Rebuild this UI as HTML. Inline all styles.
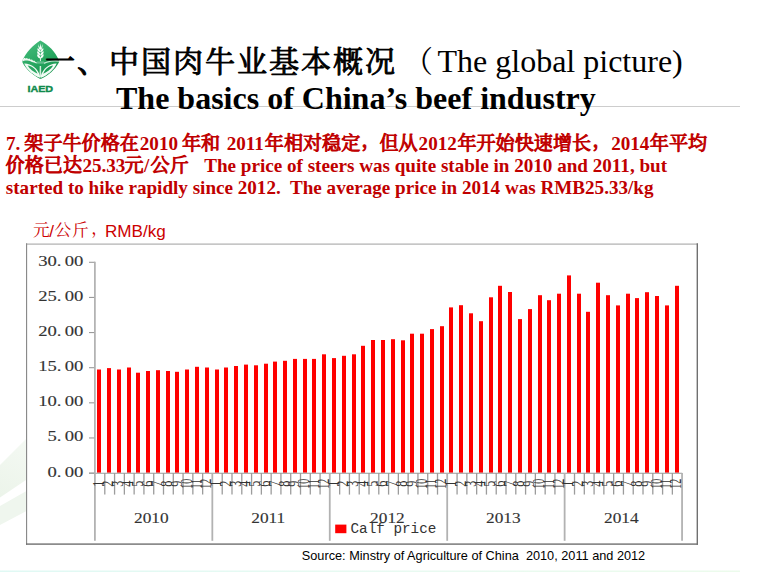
<!DOCTYPE html>
<html><head><meta charset="utf-8"><title>slide</title>
<style>
html,body{margin:0;padding:0;background:#fff;}
body{width:769px;height:572px;position:relative;overflow:hidden;font-family:"Liberation Sans",sans-serif;}
svg{position:absolute;left:0;top:0;}
text{white-space:pre;}
.t1{font:32px "Liberation Serif",serif;fill:#000;}
.t2{font:bold 32px "Liberation Serif",serif;fill:#000;}
.rd{font:bold 19.12px "Liberation Serif",serif;fill:#c00000;}
.un{font:17.1px "Liberation Sans",sans-serif;fill:#cc0000;}
.src{font:12.72px "Liberation Sans",sans-serif;fill:#000;}
.lg{font:14.3px "Liberation Mono",monospace;fill:#333;}
.ax{font:13.9px "Liberation Serif",serif;fill:#333;stroke:#333;stroke-width:.12px;}
.mo{font:16.5px "Liberation Serif",serif;fill:#333;}
.ct{font:30.08px "Liberation Serif","Noto Serif CJK SC",serif;fill:#000;stroke:#000;stroke-width:.9px;stroke-linejoin:round;}
.cb{font:19.1px "Liberation Serif","Noto Serif CJK SC",serif;fill:#c00000;stroke:#c00000;stroke-width:1.03px;stroke-linejoin:round;}
.cu{font:16.7px "Liberation Serif","Noto Serif CJK SC",serif;fill:#cc0000;}
</style></head><body>
<svg width="769" height="572" viewBox="0 0 769 572">
<defs>
<linearGradient id="bt" x1="0" x2="1" y1="0" y2="0"><stop offset="0" stop-color="#e0f9f4"/><stop offset=".5" stop-color="#e8faf2"/><stop offset="1" stop-color="#ecfbec"/></linearGradient>
<linearGradient id="dg" gradientUnits="userSpaceOnUse" x1="0" y1="495" x2="26" y2="440"><stop offset="0" stop-color="#ecf4ea"/><stop offset="1" stop-color="#f4f9f3"/></linearGradient>
</defs>
<!-- faint decoration -->
<polygon points="0,465 26,439 26,480 0,497.6" fill="url(#dg)"/>
<polygon points="0,506 26,491.3 26,511.3 0,525" fill="#eff6ee"/>
<rect x="0" y="570.5" width="740" height="1.5" fill="url(#bt)"/>
<line x1="0" x2="740" y1="106.5" y2="106.5" stroke="#cdcdcd" stroke-width="1"/>
<!-- chart frame -->
<rect x="26" y="243.3" width="672" height="301.5" fill="#fff"/>
<rect x="26" y="243.3" width="672" height="1.7" fill="#c6c6c6"/>
<rect x="26" y="243.3" width="1.15" height="301.5" fill="#8a8a8a"/>
<rect x="26" y="543.4" width="672" height="1.4" fill="#707070"/>
<rect x="696.6" y="243.3" width="1.4" height="301.5" fill="#707070"/>
<g fill="#ff0000">
<rect x="97" y="369.5" width="4" height="103.2"/>
<rect x="107" y="368.1" width="4" height="104.6"/>
<rect x="117" y="369.5" width="4" height="103.2"/>
<rect x="127" y="367.5" width="4" height="105.2"/>
<rect x="136" y="372.7" width="4" height="100.0"/>
<rect x="146" y="371.0" width="4" height="101.7"/>
<rect x="156" y="370.2" width="4" height="102.5"/>
<rect x="166" y="371.0" width="4" height="101.7"/>
<rect x="175" y="371.8" width="4" height="100.9"/>
<rect x="185" y="369.5" width="4" height="103.2"/>
<rect x="195" y="366.8" width="4" height="105.9"/>
<rect x="205" y="367.5" width="4" height="105.2"/>
<rect x="215" y="369.5" width="4" height="103.2"/>
<rect x="224" y="367.5" width="4" height="105.2"/>
<rect x="234" y="366.0" width="4" height="106.7"/>
<rect x="244" y="364.6" width="4" height="108.1"/>
<rect x="254" y="365.3" width="4" height="107.4"/>
<rect x="264" y="363.7" width="4" height="109.0"/>
<rect x="273" y="361.6" width="4" height="111.1"/>
<rect x="283" y="360.8" width="4" height="111.9"/>
<rect x="293" y="358.9" width="4" height="113.8"/>
<rect x="303" y="358.9" width="4" height="113.8"/>
<rect x="312" y="358.9" width="4" height="113.8"/>
<rect x="322" y="354.3" width="4" height="118.4"/>
<rect x="332" y="358.1" width="4" height="114.6"/>
<rect x="342" y="355.8" width="4" height="116.9"/>
<rect x="352" y="354.3" width="4" height="118.4"/>
<rect x="361" y="345.8" width="4" height="126.9"/>
<rect x="371" y="340.0" width="4" height="132.7"/>
<rect x="381" y="340.0" width="4" height="132.7"/>
<rect x="391" y="339.2" width="4" height="133.5"/>
<rect x="401" y="340.3" width="4" height="132.4"/>
<rect x="410" y="333.7" width="4" height="139.0"/>
<rect x="420" y="333.7" width="4" height="139.0"/>
<rect x="430" y="329.1" width="4" height="143.6"/>
<rect x="440" y="326.2" width="4" height="146.5"/>
<rect x="449" y="307.4" width="4" height="165.3"/>
<rect x="459" y="305.2" width="4" height="167.5"/>
<rect x="469" y="313.3" width="4" height="159.4"/>
<rect x="479" y="321.2" width="4" height="151.5"/>
<rect x="489" y="297.3" width="4" height="175.4"/>
<rect x="498" y="285.8" width="4" height="186.9"/>
<rect x="508" y="292.0" width="4" height="180.7"/>
<rect x="518" y="319.1" width="4" height="153.6"/>
<rect x="528" y="309.1" width="4" height="163.6"/>
<rect x="538" y="295.2" width="4" height="177.5"/>
<rect x="547" y="300.2" width="4" height="172.5"/>
<rect x="557" y="293.7" width="4" height="179.0"/>
<rect x="567" y="275.4" width="4" height="197.3"/>
<rect x="577" y="293.7" width="4" height="179.0"/>
<rect x="586" y="311.8" width="4" height="160.9"/>
<rect x="596" y="282.7" width="4" height="190.0"/>
<rect x="606" y="295.2" width="4" height="177.5"/>
<rect x="616" y="305.4" width="4" height="167.3"/>
<rect x="626" y="293.7" width="4" height="179.0"/>
<rect x="635" y="298.1" width="4" height="174.6"/>
<rect x="645" y="292.2" width="4" height="180.5"/>
<rect x="655" y="296.0" width="4" height="176.7"/>
<rect x="665" y="305.4" width="4" height="167.3"/>
<rect x="675" y="285.8" width="4" height="186.9"/>
</g>
<g stroke="#9a9a9a" stroke-width="1.1">
<line x1="89" x2="682.2" y1="473.3" y2="473.3"/>
<line x1="89" x2="95" y1="262.30" y2="262.30"/><line x1="89" x2="95" y1="297.43" y2="297.43"/><line x1="89" x2="95" y1="332.56" y2="332.56"/><line x1="89" x2="95" y1="367.69" y2="367.69"/><line x1="89" x2="95" y1="402.82" y2="402.82"/><line x1="89" x2="95" y1="437.95" y2="437.95"/><line x1="89" x2="95" y1="473.08" y2="473.08"/>
</g>
<line x1="94.9" x2="94.9" y1="261.7" y2="473.3" stroke="#b0b0b0" stroke-width="1.7"/>
<g stroke="#9c9c9c" stroke-width="1.3">
<line x1="104.79" x2="104.79" y1="473" y2="494.6"/><line x1="114.57" x2="114.57" y1="473" y2="494.6"/><line x1="124.36" x2="124.36" y1="473" y2="494.6"/><line x1="134.14" x2="134.14" y1="473" y2="494.6"/><line x1="143.93" x2="143.93" y1="473" y2="494.6"/><line x1="153.72" x2="153.72" y1="473" y2="494.6"/><line x1="163.50" x2="163.50" y1="473" y2="494.6"/><line x1="173.29" x2="173.29" y1="473" y2="494.6"/><line x1="183.07" x2="183.07" y1="473" y2="494.6"/><line x1="192.86" x2="192.86" y1="473" y2="494.6"/><line x1="202.65" x2="202.65" y1="473" y2="494.6"/><line x1="222.22" x2="222.22" y1="473" y2="494.6"/><line x1="232.00" x2="232.00" y1="473" y2="494.6"/><line x1="241.79" x2="241.79" y1="473" y2="494.6"/><line x1="251.58" x2="251.58" y1="473" y2="494.6"/><line x1="261.36" x2="261.36" y1="473" y2="494.6"/><line x1="271.15" x2="271.15" y1="473" y2="494.6"/><line x1="280.93" x2="280.93" y1="473" y2="494.6"/><line x1="290.72" x2="290.72" y1="473" y2="494.6"/><line x1="300.51" x2="300.51" y1="473" y2="494.6"/><line x1="310.29" x2="310.29" y1="473" y2="494.6"/><line x1="320.08" x2="320.08" y1="473" y2="494.6"/><line x1="339.65" x2="339.65" y1="473" y2="494.6"/><line x1="349.44" x2="349.44" y1="473" y2="494.6"/><line x1="359.22" x2="359.22" y1="473" y2="494.6"/><line x1="369.01" x2="369.01" y1="473" y2="494.6"/><line x1="378.79" x2="378.79" y1="473" y2="494.6"/><line x1="388.58" x2="388.58" y1="473" y2="494.6"/><line x1="398.37" x2="398.37" y1="473" y2="494.6"/><line x1="408.15" x2="408.15" y1="473" y2="494.6"/><line x1="417.94" x2="417.94" y1="473" y2="494.6"/><line x1="427.72" x2="427.72" y1="473" y2="494.6"/><line x1="437.51" x2="437.51" y1="473" y2="494.6"/><line x1="457.08" x2="457.08" y1="473" y2="494.6"/><line x1="466.87" x2="466.87" y1="473" y2="494.6"/><line x1="476.65" x2="476.65" y1="473" y2="494.6"/><line x1="486.44" x2="486.44" y1="473" y2="494.6"/><line x1="496.23" x2="496.23" y1="473" y2="494.6"/><line x1="506.01" x2="506.01" y1="473" y2="494.6"/><line x1="515.80" x2="515.80" y1="473" y2="494.6"/><line x1="525.58" x2="525.58" y1="473" y2="494.6"/><line x1="535.37" x2="535.37" y1="473" y2="494.6"/><line x1="545.16" x2="545.16" y1="473" y2="494.6"/><line x1="554.94" x2="554.94" y1="473" y2="494.6"/><line x1="574.51" x2="574.51" y1="473" y2="494.6"/><line x1="584.30" x2="584.30" y1="473" y2="494.6"/><line x1="594.09" x2="594.09" y1="473" y2="494.6"/><line x1="603.87" x2="603.87" y1="473" y2="494.6"/><line x1="613.66" x2="613.66" y1="473" y2="494.6"/><line x1="623.44" x2="623.44" y1="473" y2="494.6"/><line x1="633.23" x2="633.23" y1="473" y2="494.6"/><line x1="643.02" x2="643.02" y1="473" y2="494.6"/><line x1="652.80" x2="652.80" y1="473" y2="494.6"/><line x1="662.59" x2="662.59" y1="473" y2="494.6"/><line x1="672.37" x2="672.37" y1="473" y2="494.6"/>
</g>
<g stroke="#b2b2b2" stroke-width="1.8">
<line x1="94.90" x2="94.90" y1="473" y2="540.8"/><line x1="212.33" x2="212.33" y1="473" y2="540.8"/><line x1="329.76" x2="329.76" y1="473" y2="540.8"/><line x1="447.20" x2="447.20" y1="473" y2="540.8"/><line x1="564.63" x2="564.63" y1="473" y2="540.8"/><line x1="682.06" x2="682.06" y1="473" y2="540.8"/>
</g>
<rect x="335.2" y="524.6" width="11.2" height="8.6" fill="#ff0000"/>
<g id="logo">
<defs>
<linearGradient id="lg1" x1="0.2" y1="0" x2="0.7" y2="1"><stop offset="0" stop-color="#45bd7c"/><stop offset=".55" stop-color="#27a660"/><stop offset="1" stop-color="#14904a"/></linearGradient>
<clipPath id="lc"><path d="M40.3,40.4 C48.5,44.5 55.5,52 58.9,60.2 C59.3,61.2 59.2,62 58.6,62.9 C54.8,69.8 48.4,75.2 41.6,78.4 C40.8,78.8 40.2,78.8 39.4,78.4 C32.4,74.8 26.2,69.4 22.6,62.8 C22.1,61.9 22.1,61.1 22.5,60.2 C26,52.6 32.2,45.6 40.3,40.4 Z"/></clipPath>
</defs>
<path d="M40.3,40.4 C48.5,44.5 55.5,52 58.9,60.2 C59.3,61.2 59.2,62 58.6,62.9 C54.8,69.8 48.4,75.2 41.6,78.4 C40.8,78.8 40.2,78.8 39.4,78.4 C32.4,74.8 26.2,69.4 22.6,62.8 C22.1,61.9 22.1,61.1 22.5,60.2 C26,52.6 32.2,45.6 40.3,40.4 Z" fill="url(#lg1)"/>
<g clip-path="url(#lc)">
<!-- jagged wall line -->
<path d="M22,59 L24.5,57.8 L25.5,58.6 L27,58 L28,59 L29.5,58.6 L30.5,59.8 L32,59.6 L33,60.8 L34.5,60.8 L35.5,62 L37,62.4 L36.5,63.6 L34,62.6 L32,62 L30,61 L27.5,60.4 L25,60.4 L22,61.6 Z" fill="#eaf7ee"/>
<!-- right wall line -->
<path d="M44,62.6 L48,61.2 L52,60.4 L56,60 L59,60.6 L59,61.8 L55,61.4 L51,61.8 L47,62.8 L44,64 Z" fill="#eaf7ee" opacity=".8"/>
<g transform="translate(0 .6)"><!-- left leaf -->
<path d="M39.6,77.2 C33.5,74.4 27,69.4 24.2,62.8 C31,62.6 38,67.6 40.1,75.6 Z" fill="#f2fbf5"/>
<path d="M37.6,73.2 C34,71.6 29.8,68.8 27.6,65 C31.8,65.4 35.8,68.4 37.6,73.2 Z" fill="#2aa763"/>
<!-- right leaf -->
<path d="M41.2,77.2 C47.3,74.4 53.8,69.4 56.6,62.8 C49.8,62.6 42.8,67.6 40.7,75.6 Z" fill="#f2fbf5"/>
<path d="M43.2,73.2 C46.8,71.6 51,68.8 53.2,65 C49,65.4 45,68.4 43.2,73.2 Z" fill="#1f9d58"/>
</g><!-- stem -->
<path d="M39.7,66 L41.1,66 L41.3,77.6 L39.5,77.6 Z" fill="#e6f6ec" opacity=".9"/>
<!-- wheat ear -->
<g fill="#f4fcf7" transform="translate(40.4 0) scale(1.3 1) translate(-40.4 0)">
<path d="M40.4,43.2 L40.9,47 L39.9,47 Z"/>
<path d="M38.9,44 L39.6,47.6 L38.8,47.6 Z"/>
<path d="M41.9,44 L41.2,47.6 L42,47.6 Z"/>
<ellipse cx="40.4" cy="48.2" rx="1.1" ry="1.6"/>
<path d="M40.4,52.3 C38.6,51.6 37.9,50.2 38.1,48.2 C39.6,48.8 40.4,50 40.4,52.3 C40.4,50 41.2,48.8 42.7,48.2 C42.9,50.2 42.2,51.6 40.4,52.3 Z"/>
<path d="M40.4,55.5 C38.5,54.8 37.7,53.3 37.9,51.2 C39.6,51.8 40.4,53.1 40.4,55.5 C40.4,53.1 41.2,51.8 42.9,51.2 C43.1,53.3 42.3,54.8 40.4,55.5 Z"/>
<path d="M40.4,58.6 C38.5,57.9 37.7,56.4 37.9,54.3 C39.6,54.9 40.4,56.2 40.4,58.6 C40.4,56.2 41.2,54.9 42.9,54.3 C43.1,56.4 42.3,57.9 40.4,58.6 Z"/>
<rect x="40.05" y="57.5" width=".7" height="3.6"/>
</g>
<!-- 1958 -->
<rect x="36.9" y="61.4" width="7.2" height="2.3" fill="#fff" opacity=".28"/>
</g>
</g>

<text transform="translate(27.4 92.0) scale(1.109 1)" style="font:bold 9.74px 'Liberation Sans',sans-serif;fill:#0f8a4c;stroke:#0f8a4c;stroke-width:.4px;">IAED</text>
<text class="ct" y="72.47" x="44.96 76.96 108.96 140.96 172.96 204.96 236.96 268.96 300.96 332.96 364.96">一、中国肉牛业基本概况</text>
<text class="ct" style="stroke:none;" x="403" y="72.47">（</text>
<text class="cb" y="149.5" x="24.3 43.4 62.5 81.6 100.7 119.8">架子牛价格在</text>
<text class="cb" y="149.5" x="182 201.1">年和</text>
<text class="cb" y="149.5" x="264.8 283.9 303 322.1 341.2">年相对稳定</text>
<text class="cb" x="361.6" y="146.5">，</text>
<text class="cb" y="149.5" x="379.4 398.5">但从</text>
<text class="cb" y="149.5" x="457.4 476.5 495.6 514.7 533.8 552.9 572">年开始快速增长</text>
<text class="cb" x="592.4" y="146.5">，</text>
<text class="cb" y="149.5" x="649.8 668.9 688">年平均</text>
<text class="cb" y="171.5" x="5.6 24.7 43.8 62.9">价格已达</text>
<text class="cb" x="124.6" y="171.5">元</text>
<text class="cb" y="171.5" x="150.6 169.7">公斤</text>
<text class="cu" x="33" y="236">元</text>
<text class="cu" x="54.4" y="236">公</text>
<text class="cu" x="72" y="236">斤</text>
<text class="cu" x="91.2" y="234.4">，</text>
<text class="t1" x="437.5" y="71.6" xml:space="preserve" >The global picture)</text>
<text class="t2" x="116.0" y="109.3" xml:space="preserve" >The basics of China’s beef industry</text>
<text class="rd" x="6.0" y="150.0" xml:space="preserve" >7.</text>
<text class="rd" x="139.8" y="150.0" xml:space="preserve" >2010</text>
<text class="rd" x="226.7" y="150.0" xml:space="preserve" >2011</text>
<text class="rd" x="418.6" y="150.0" xml:space="preserve" >2012</text>
<text class="rd" x="611.2" y="150.0" xml:space="preserve" >2014</text>
<text class="rd" x="82.4" y="172.0" xml:space="preserve" >25.33</text>
<text class="rd" x="143.9" y="172.0" xml:space="preserve" >/</text>
<text class="rd" x="204.2" y="172.0" xml:space="preserve" >The price of steers was quite stable in 2010 and 2011, but</text>
<text class="rd" x="5.8" y="194.0" xml:space="preserve" >started to hike rapidly since 2012.  The average price in 2014 was RMB25.33/kg</text>
<text class="un" x="49.3" y="236.6" xml:space="preserve" >/</text>
<text class="un" x="104.9" y="236.6" xml:space="preserve" >RMB/kg</text>
<text class="src" x="301.8" y="559.8" xml:space="preserve" >Source: Minstry of Agriculture of China  2010, 2011 and 2012</text>
<text class="lg" x="350.5" y="533.2" xml:space="preserve" >Calf price</text>
<text class="ax" transform="translate(38.20 265.80) scale(1.34 1)">30.</text><text class="ax" transform="translate(64.80 265.80) scale(1.34 1)">00</text>
<text class="ax" transform="translate(38.20 300.93) scale(1.34 1)">25.</text><text class="ax" transform="translate(64.80 300.93) scale(1.34 1)">00</text>
<text class="ax" transform="translate(38.20 336.06) scale(1.34 1)">20.</text><text class="ax" transform="translate(64.80 336.06) scale(1.34 1)">00</text>
<text class="ax" transform="translate(38.20 371.19) scale(1.34 1)">15.</text><text class="ax" transform="translate(64.80 371.19) scale(1.34 1)">00</text>
<text class="ax" transform="translate(38.20 406.32) scale(1.34 1)">10.</text><text class="ax" transform="translate(64.80 406.32) scale(1.34 1)">00</text>
<text class="ax" transform="translate(47.55 441.45) scale(1.34 1)">5.</text><text class="ax" transform="translate(64.80 441.45) scale(1.34 1)">00</text>
<text class="ax" transform="translate(47.55 476.58) scale(1.34 1)">0.</text><text class="ax" transform="translate(64.80 476.58) scale(1.34 1)">00</text>

<text class="ax" transform="translate(134.0 522.8) scale(1.245 1)">2010</text>
<text class="ax" transform="translate(251.3 522.8) scale(1.245 1)">2011</text>
<text class="ax" transform="translate(370.1 522.8) scale(1.245 1)">2012</text>
<text class="ax" transform="translate(486.0 522.8) scale(1.245 1)">2013</text>
<text class="ax" transform="translate(604.0 522.8) scale(1.245 1)">2014</text>

<text class="mo" transform="translate(103.69 483.7) rotate(-90) scale(0.74 1)" text-anchor="middle">1</text><text class="mo" transform="translate(113.48 483.7) rotate(-90) scale(0.74 1)" text-anchor="middle">2</text><text class="mo" transform="translate(123.27 483.7) rotate(-90) scale(0.74 1)" text-anchor="middle">3</text><text class="mo" transform="translate(133.05 483.7) rotate(-90) scale(0.74 1)" text-anchor="middle">4</text><text class="mo" transform="translate(142.84 483.7) rotate(-90) scale(0.74 1)" text-anchor="middle">5</text><text class="mo" transform="translate(152.62 483.7) rotate(-90) scale(0.74 1)" text-anchor="middle">6</text><text class="mo" transform="translate(162.41 483.7) rotate(-90) scale(0.74 1)" text-anchor="middle">7</text><text class="mo" transform="translate(172.20 483.7) rotate(-90) scale(0.74 1)" text-anchor="middle">8</text><text class="mo" transform="translate(181.98 483.7) rotate(-90) scale(0.74 1)" text-anchor="middle">9</text><text class="mo" transform="translate(191.77 483.7) rotate(-90) scale(0.6 1)" text-anchor="middle">10</text><text class="mo" transform="translate(201.55 483.7) rotate(-90) scale(0.6 1)" text-anchor="middle">11</text><text class="mo" transform="translate(211.34 483.7) rotate(-90) scale(0.6 1)" text-anchor="middle">12</text><text class="mo" transform="translate(221.12 483.7) rotate(-90) scale(0.74 1)" text-anchor="middle">1</text><text class="mo" transform="translate(230.91 483.7) rotate(-90) scale(0.74 1)" text-anchor="middle">2</text><text class="mo" transform="translate(240.70 483.7) rotate(-90) scale(0.74 1)" text-anchor="middle">3</text><text class="mo" transform="translate(250.48 483.7) rotate(-90) scale(0.74 1)" text-anchor="middle">4</text><text class="mo" transform="translate(260.27 483.7) rotate(-90) scale(0.74 1)" text-anchor="middle">5</text><text class="mo" transform="translate(270.05 483.7) rotate(-90) scale(0.74 1)" text-anchor="middle">6</text><text class="mo" transform="translate(279.84 483.7) rotate(-90) scale(0.74 1)" text-anchor="middle">7</text><text class="mo" transform="translate(289.63 483.7) rotate(-90) scale(0.74 1)" text-anchor="middle">8</text><text class="mo" transform="translate(299.41 483.7) rotate(-90) scale(0.74 1)" text-anchor="middle">9</text><text class="mo" transform="translate(309.20 483.7) rotate(-90) scale(0.6 1)" text-anchor="middle">10</text><text class="mo" transform="translate(318.99 483.7) rotate(-90) scale(0.6 1)" text-anchor="middle">11</text><text class="mo" transform="translate(328.77 483.7) rotate(-90) scale(0.6 1)" text-anchor="middle">12</text><text class="mo" transform="translate(338.56 483.7) rotate(-90) scale(0.74 1)" text-anchor="middle">1</text><text class="mo" transform="translate(348.34 483.7) rotate(-90) scale(0.74 1)" text-anchor="middle">2</text><text class="mo" transform="translate(358.13 483.7) rotate(-90) scale(0.74 1)" text-anchor="middle">3</text><text class="mo" transform="translate(367.91 483.7) rotate(-90) scale(0.74 1)" text-anchor="middle">4</text><text class="mo" transform="translate(377.70 483.7) rotate(-90) scale(0.74 1)" text-anchor="middle">5</text><text class="mo" transform="translate(387.49 483.7) rotate(-90) scale(0.74 1)" text-anchor="middle">6</text><text class="mo" transform="translate(397.27 483.7) rotate(-90) scale(0.74 1)" text-anchor="middle">7</text><text class="mo" transform="translate(407.06 483.7) rotate(-90) scale(0.74 1)" text-anchor="middle">8</text><text class="mo" transform="translate(416.84 483.7) rotate(-90) scale(0.74 1)" text-anchor="middle">9</text><text class="mo" transform="translate(426.63 483.7) rotate(-90) scale(0.6 1)" text-anchor="middle">10</text><text class="mo" transform="translate(436.42 483.7) rotate(-90) scale(0.6 1)" text-anchor="middle">11</text><text class="mo" transform="translate(446.20 483.7) rotate(-90) scale(0.6 1)" text-anchor="middle">12</text><text class="mo" transform="translate(455.99 483.7) rotate(-90) scale(0.74 1)" text-anchor="middle">1</text><text class="mo" transform="translate(465.77 483.7) rotate(-90) scale(0.74 1)" text-anchor="middle">2</text><text class="mo" transform="translate(475.56 483.7) rotate(-90) scale(0.74 1)" text-anchor="middle">3</text><text class="mo" transform="translate(485.35 483.7) rotate(-90) scale(0.74 1)" text-anchor="middle">4</text><text class="mo" transform="translate(495.13 483.7) rotate(-90) scale(0.74 1)" text-anchor="middle">5</text><text class="mo" transform="translate(504.92 483.7) rotate(-90) scale(0.74 1)" text-anchor="middle">6</text><text class="mo" transform="translate(514.70 483.7) rotate(-90) scale(0.74 1)" text-anchor="middle">7</text><text class="mo" transform="translate(524.49 483.7) rotate(-90) scale(0.74 1)" text-anchor="middle">8</text><text class="mo" transform="translate(534.28 483.7) rotate(-90) scale(0.74 1)" text-anchor="middle">9</text><text class="mo" transform="translate(544.06 483.7) rotate(-90) scale(0.6 1)" text-anchor="middle">10</text><text class="mo" transform="translate(553.85 483.7) rotate(-90) scale(0.6 1)" text-anchor="middle">11</text><text class="mo" transform="translate(563.63 483.7) rotate(-90) scale(0.6 1)" text-anchor="middle">12</text><text class="mo" transform="translate(573.42 483.7) rotate(-90) scale(0.74 1)" text-anchor="middle">1</text><text class="mo" transform="translate(583.21 483.7) rotate(-90) scale(0.74 1)" text-anchor="middle">2</text><text class="mo" transform="translate(592.99 483.7) rotate(-90) scale(0.74 1)" text-anchor="middle">3</text><text class="mo" transform="translate(602.78 483.7) rotate(-90) scale(0.74 1)" text-anchor="middle">4</text><text class="mo" transform="translate(612.56 483.7) rotate(-90) scale(0.74 1)" text-anchor="middle">5</text><text class="mo" transform="translate(622.35 483.7) rotate(-90) scale(0.74 1)" text-anchor="middle">6</text><text class="mo" transform="translate(632.14 483.7) rotate(-90) scale(0.74 1)" text-anchor="middle">7</text><text class="mo" transform="translate(641.92 483.7) rotate(-90) scale(0.74 1)" text-anchor="middle">8</text><text class="mo" transform="translate(651.71 483.7) rotate(-90) scale(0.74 1)" text-anchor="middle">9</text><text class="mo" transform="translate(661.50 483.7) rotate(-90) scale(0.6 1)" text-anchor="middle">10</text><text class="mo" transform="translate(671.28 483.7) rotate(-90) scale(0.6 1)" text-anchor="middle">11</text><text class="mo" transform="translate(681.07 483.7) rotate(-90) scale(0.6 1)" text-anchor="middle">12</text>
</svg>
</body></html>
